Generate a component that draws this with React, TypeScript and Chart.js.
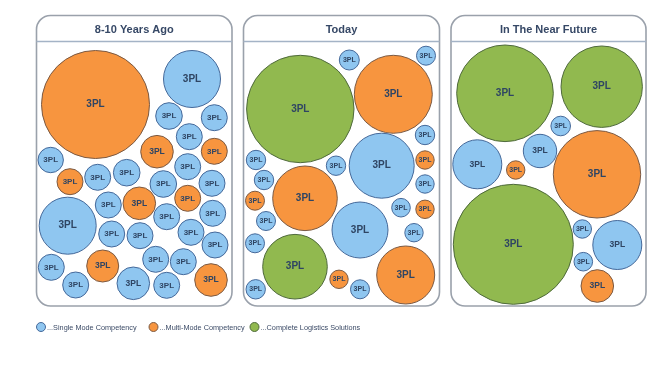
import React, { useEffect, useRef } from "react";
import { Chart, registerables } from "chart.js";

Chart.register(...registerables);

// Panel titles and frames (x-left, x-right in chart units)
const panelTitles = ["8-10 Years Ago", "Today", "In The Near Future"];
const panelLeft = [36.5, 243.5, 451];
const panelRight = [232, 439.5, 646];

const categoryNames = ["...Single Mode Competency", "...Multi-Mode Competency", "...Complete Logistics Solutions"];
const bubbleLabel = "3PL";

// [x, y, radius, category] 0 = single, 1 = multi, 2 = complete
const pastBubbles: number[][] = [
  [95.5, 104.5, 54, 1], [192, 79, 28.5, 0], [169, 116, 13.3, 0], [214.3, 117.7, 13, 0],
  [189.3, 136.7, 13, 0], [157, 151.7, 16.3, 1], [214.3, 151.3, 13, 1], [50.7, 160, 12.7, 0],
  [70, 181.7, 13, 1], [97.7, 177.3, 13, 0], [126.7, 172.7, 13.3, 0], [187.7, 166.7, 13, 0],
  [163.3, 184, 13.3, 0], [212, 183.3, 13, 0], [139.3, 203.3, 16.3, 1], [108.3, 205, 13, 0],
  [187.7, 198.3, 13, 1], [67.7, 225.7, 28.5, 0], [166.7, 216.7, 13, 0], [212.7, 213.3, 13, 0],
  [111.7, 234, 13, 0], [140, 235.7, 13, 0], [191, 232.3, 13, 0], [215, 245, 13, 0],
  [51.3, 267.3, 13, 0], [102.7, 266, 16, 1], [155.7, 259.3, 13, 0], [183.3, 261.7, 13, 0],
  [75.7, 285, 13, 0], [133.3, 283.3, 16.3, 0], [166.7, 285.3, 13, 0], [211, 280, 16.3, 1],
];

const todayBubbles: number[][] = [
  [300.3, 109, 53.7, 2], [349.3, 60, 10, 0], [426, 55.7, 9.5, 0], [393.3, 94.3, 39, 1],
  [425, 135, 9.7, 0], [381.7, 165.7, 32.5, 0], [425, 160, 9.2, 1], [336, 165.7, 9.7, 0],
  [256, 160, 9.7, 0], [264, 180, 9.7, 0], [305, 198.3, 32.3, 1], [425, 184, 9.2, 0],
  [255, 200.7, 9.5, 1], [401, 207.7, 9.3, 0], [425, 209.3, 9.2, 1], [266, 221, 9.5, 0],
  [360, 230, 28, 0], [414, 232.7, 9.2, 0], [255, 243.3, 9.5, 0], [295, 266.7, 32.3, 2],
  [405.7, 275, 29, 1], [339, 279.3, 9.2, 1], [360, 289.3, 9.5, 0], [255.7, 289.3, 9.7, 0],
];

const futureBubbles: number[][] = [
  [505, 93.3, 48.3, 2], [601.7, 86.7, 40.7, 2], [560.7, 126, 9.8, 0], [540, 151, 16.7, 0],
  [477.3, 164.3, 24.5, 0], [515.7, 170, 9.2, 1], [597, 174.3, 43.7, 1], [513.3, 244.3, 60, 2],
  [582.3, 229, 9.2, 0], [617.3, 245, 24.5, 0], [583.3, 261.7, 9.3, 0], [597.3, 286, 16.3, 1],
];

const fillColors = ["#8fc6f0", "#f7953f", "#91b94f"];
const borderColors = ["#45699a", "#7b5a44", "#4f6a3c"];

const W = 666;
const H = 365;

function roundRect(ctx: CanvasRenderingContext2D, x: number, y: number, w: number, h: number, r: number) {
  ctx.beginPath();
  ctx.moveTo(x + r, y);
  ctx.lineTo(x + w - r, y);
  ctx.arcTo(x + w, y, x + w, y + r, r);
  ctx.lineTo(x + w, y + h - r);
  ctx.arcTo(x + w, y + h, x + w - r, y + h, r);
  ctx.lineTo(x + r, y + h);
  ctx.arcTo(x, y + h, x, y + h - r, r);
  ctx.lineTo(x, y + r);
  ctx.arcTo(x, y, x + r, y, r);
  ctx.closePath();
}

export default function App() {
  const ref = useRef<HTMLCanvasElement | null>(null);

  useEffect(() => {
    if (!ref.current) return;
    const all = [...pastBubbles, ...todayBubbles, ...futureBubbles];
    const datasets = [0, 1, 2].map((c) => ({
      label: categoryNames[c],
      data: all.filter((b) => b[3] === c).map((b) => ({ x: b[0], y: b[1], r: b[2] })),
      backgroundColor: fillColors[c],
      borderColor: borderColors[c],
      borderWidth: 1,
      clip: false as any,
    }));

    const framePlugin = {
      id: "frames",
      beforeDatasetsDraw(chart: any) {
        const ctx = chart.ctx;
        const xs = chart.scales.x;
        const ys = chart.scales.y;
        ctx.save();
        for (let i = 0; i < 3; i++) {
          const l = xs.getPixelForValue(panelLeft[i]);
          const r = xs.getPixelForValue(panelRight[i]);
          const t = ys.getPixelForValue(15.5);
          const b = ys.getPixelForValue(306);
          roundRect(ctx, l, t, r - l, b - t, 14);
          ctx.fillStyle = "#ffffff";
          ctx.fill();
          ctx.lineWidth = 1.6;
          ctx.strokeStyle = "#9aa1ab";
          ctx.stroke();
          const dy = ys.getPixelForValue(41.5);
          ctx.beginPath();
          ctx.moveTo(l, dy);
          ctx.lineTo(r, dy);
          ctx.lineWidth = 1.6;
          ctx.strokeStyle = "#a4b3c6";
          ctx.stroke();
          ctx.fillStyle = "#364866";
          ctx.font = "bold 11px 'Liberation Sans', Arial, sans-serif";
          ctx.textAlign = "center";
          ctx.textBaseline = "middle";
          ctx.fillText(panelTitles[i], (l + r) / 2, ys.getPixelForValue(30));
        }
        ctx.restore();
      },
      afterDatasetsDraw(chart: any) {
        const ctx = chart.ctx;
        ctx.save();
        ctx.textAlign = "center";
        ctx.textBaseline = "middle";
        ctx.fillStyle = "#2f4563";
        chart.data.datasets.forEach((ds: any, di: number) => {
          const meta = chart.getDatasetMeta(di);
          meta.data.forEach((el: any, i: number) => {
            const r = ds.data[i].r;
            const size = r >= 25 ? 10 : r >= 15 ? 8.5 : r >= 12 ? 8 : 7;
            ctx.font = `bold ${size}px 'Liberation Sans', Arial, sans-serif`;
            ctx.fillText(bubbleLabel, el.x, el.y);
          });
        });
        // legend
        const legX = [41, 153.5, 254.5];
        const ly = chart.scales.y.getPixelForValue(327);
        ctx.textAlign = "left";
        ctx.font = "7.3px 'Liberation Sans', Arial, sans-serif";
        for (let c = 0; c < 3; c++) {
          const cx = chart.scales.x.getPixelForValue(legX[c]);
          ctx.beginPath();
          ctx.arc(cx, ly, 4.5, 0, Math.PI * 2);
          ctx.fillStyle = fillColors[c];
          ctx.fill();
          ctx.lineWidth = 1;
          ctx.strokeStyle = borderColors[c];
          ctx.stroke();
          ctx.fillStyle = "#3b4a66";
          ctx.fillText(categoryNames[c], cx + 6, ly + 0.5);
        }
        ctx.restore();
      },
    };

    const chart = new Chart(ref.current, {
      type: "bubble",
      data: { datasets },
      options: {
        animation: false,
        responsive: false,
        maintainAspectRatio: false,
        layout: { padding: 0, autoPadding: false },
        events: [],
        plugins: { legend: { display: false }, tooltip: { enabled: false } },
        scales: {
          x: { type: "linear", min: 0, max: W, display: false },
          y: { type: "linear", min: 0, max: H, reverse: true, display: false },
        },
      },
      plugins: [framePlugin],
    });
    return () => chart.destroy();
  }, []);

  return (
    <div style={{ position: "fixed", left: 0, top: 0, width: W, height: H, background: "#ffffff" }}>
      <canvas ref={ref} width={W} height={H} style={{ width: W, height: H, display: "block" }} />
    </div>
  );
}
